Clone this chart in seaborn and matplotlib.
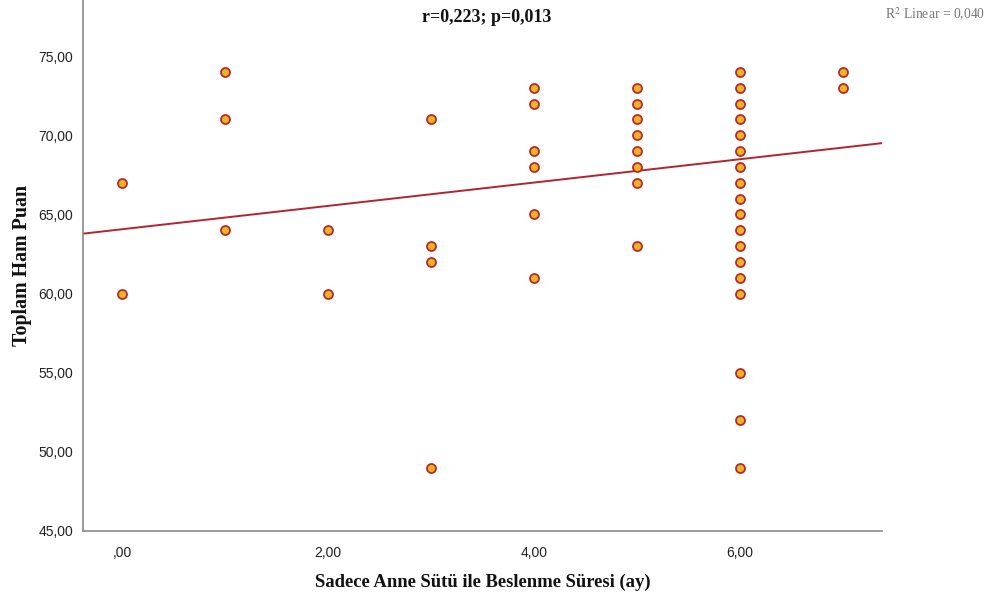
import matplotlib
matplotlib.use("Agg")
import matplotlib.pyplot as plt
import seaborn as sns
import numpy as np
import pandas as pd
from matplotlib.ticker import FuncFormatter, FixedLocator

# ---- data ----
duration = ([0, 0] +
            [1, 1, 1] +
            [2, 2] +
            [3, 3, 3, 3] +
            [4, 4, 4, 4, 4, 4] +
            [5, 5, 5, 5, 5, 5, 5, 5] +
            [6] * 18 +
            [7, 7])
score = ([67, 60] +
         [74, 71, 64] +
         [64, 60] +
         [71, 63, 62, 49] +
         [73, 72, 69, 68, 65, 61] +
         [73, 72, 71, 70, 69, 68, 67, 63] +
         [74, 73, 72, 71, 70, 69, 68, 67, 66, 65, 64, 63, 62, 61, 60, 55, 52, 49] +
         [74, 73])
fit_intercept = 64.06
fit_slope = 0.737
x_ticks = [0, 2, 4, 6]
y_ticks = [45, 50, 55, 60, 65, 70, 75]
title_text = "r=0,223; p=0,013"
r2_text = "R$^2$ Linear = 0,040"
x_label = "Sadece Anne Sütü ile Beslenme Süresi (ay)"
y_label = "Toplam Ham Puan"

df = pd.DataFrame({"x": duration, "y": score})

sns.set_theme(style="white")
plt.rcParams["mathtext.fontset"] = "stix"

fig = plt.figure(figsize=(9.97, 6.0), dpi=100)
ax = fig.add_axes([83 / 997, 1 - 531 / 600, (882 - 83) / 997, 531 / 600])

xlim = (-0.379, 7.38)
ylim = (45, 78.54)

xs = np.array(xlim)
ax.plot(xs, fit_intercept + fit_slope * xs, color="#B22430", lw=1.4, zorder=2)

sns.scatterplot(data=df, x="x", y="y", ax=ax, s=42, color="#EBB521",
                edgecolor="#B8282C", linewidth=1.3, zorder=3)

ax.set_xlim(*xlim)
ax.set_ylim(*ylim)

def fmt(v, pos):
    s = f"{v:.2f}".replace(".", ",")
    if s.startswith("0,"):
        s = s[1:]
    return s

ax.xaxis.set_major_locator(FixedLocator(x_ticks))
ax.yaxis.set_major_locator(FixedLocator(y_ticks))
ax.xaxis.set_major_formatter(FuncFormatter(fmt))
ax.yaxis.set_major_formatter(FuncFormatter(fmt))

tick_font = ["Liberation Sans Narrow", "Liberation Sans", "DejaVu Sans"]
for lab in ax.get_xticklabels() + ax.get_yticklabels():
    lab.set_family(tick_font)
    lab.set_fontsize(10)
    lab.set_color("#222222")
ax.tick_params(axis="both", length=0)
ax.tick_params(axis="x", pad=11)
ax.tick_params(axis="y", pad=7)

for side in ["top", "right"]:
    ax.spines[side].set_visible(False)
for side in ["left", "bottom"]:
    ax.spines[side].set_color("#8a8a8a")
    ax.spines[side].set_linewidth(1.2)

ax.set_xlabel(x_label, family="Liberation Serif", fontsize=13.4, fontweight="bold",
              color="#111111", labelpad=10)
ax.set_ylabel(y_label, family="Liberation Serif", fontsize=14.4, fontweight="bold",
              color="#111111", labelpad=5)

fig.text(487 / 997, 1 - 18 / 600, title_text, family="Liberation Serif",
         fontsize=13, fontweight="bold", ha="center", va="center", color="#111111")
fig.text(935 / 997, 1 - 14 / 600, r2_text, family="Liberation Serif",
         fontsize=9.8, ha="center", va="center", color="#777777")

fig.savefig("out.png", dpi=100, facecolor="white")
